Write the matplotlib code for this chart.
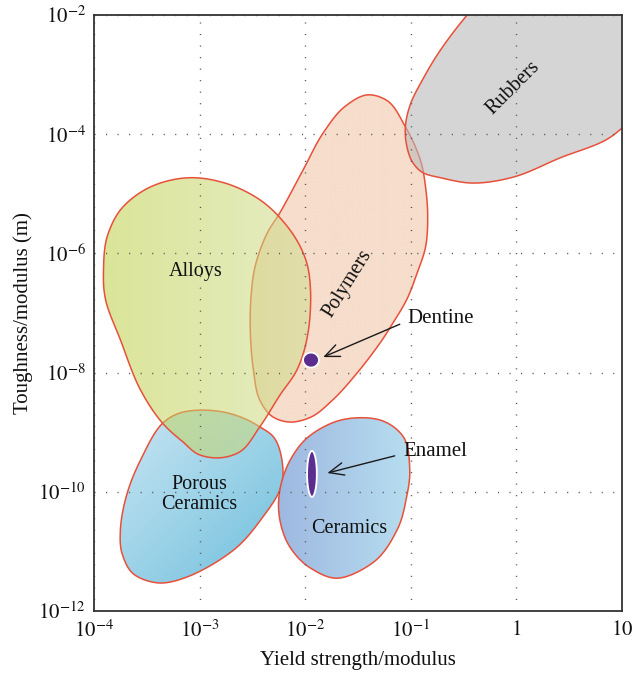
import numpy as np
import matplotlib
matplotlib.use("Agg")
import matplotlib.pyplot as plt
from matplotlib.path import Path
from matplotlib.patches import PathPatch
from matplotlib.colors import to_rgb

plt.rcParams["font.family"] = ["Liberation Serif", "DejaVu Serif"]
plt.rcParams["mathtext.fontset"] = "stix"

# Material-class outlines, in decades: log10(yield strength/modulus), log10(toughness/modulus)
alloys_x = [-3.09, -2.76, -2.43, -2.16, -2.00, -1.95, -1.98, -2.08, -2.24, -2.43, -2.62,
            -2.81, -3.00, -3.16, -3.35, -3.56, -3.75, -3.89, -3.91, -3.87, -3.71, -3.42]
alloys_y = [-4.73, -4.82, -5.10, -5.57, -6.08, -6.61, -7.40, -7.96, -8.38, -8.91, -9.33,
            -9.43, -9.38, -9.16, -8.85, -8.29, -7.45, -6.78, -6.28, -5.69, -5.19, -4.85]

polymers_x = [-1.41, -1.23, -1.05, -0.91, -0.86, -0.84, -0.86, -0.94, -1.04, -1.17, -1.29,
              -1.51, -1.74, -1.95, -2.14, -2.30, -2.43, -2.49, -2.52, -2.51, -2.47, -2.36,
              -2.24, -2.02, -1.83, -1.62]
polymers_y = [-3.34, -3.43, -3.88, -4.43, -4.89, -5.39, -5.89, -6.33, -6.78, -7.17, -7.50,
              -8.01, -8.46, -8.75, -8.83, -8.75, -8.46, -7.96, -7.29, -6.66, -6.19, -5.66,
              -5.32, -4.60, -3.98, -3.53]

rubbers_x = [-0.30, 1.20, 1.15, 0.89, 0.41, -0.03, -0.41, -0.72, -0.88, -0.98, -1.04,
             -1.05, -1.00, -0.89, -0.75, -0.58, -0.44]
rubbers_y = [-1.70, -1.70, -3.50, -4.05, -4.40, -4.72, -4.82, -4.73, -4.65, -4.48, -4.18,
             -3.85, -3.48, -3.09, -2.67, -2.25, -1.95]

porous_x = [-3.00, -2.78, -2.59, -2.43, -2.30, -2.22, -2.23, -2.40, -2.68, -3.12, -3.38,
            -3.61, -3.73, -3.75, -3.69, -3.56, -3.35, -3.19]
porous_y = [-8.63, -8.66, -8.76, -8.91, -9.08, -9.47, -9.92, -10.42, -10.98, -11.43, -11.53,
            -11.40, -11.06, -10.64, -10.05, -9.47, -8.85, -8.68]

ceramics_x = [-1.41, -1.24, -1.07, -1.01, -1.04, -1.13, -1.36, -1.70, -1.95, -2.14, -2.24,
              -2.24, -2.13, -1.95, -1.67]
ceramics_y = [-8.76, -8.83, -9.08, -9.63, -10.09, -10.64, -11.19, -11.45, -11.28, -10.94,
              -10.47, -9.97, -9.43, -9.05, -8.80]

# Tooth tissues: centre and half-extent, in decades
dentine_center = (-1.945, -7.79)
dentine_half = (0.075, 0.125)
enamel_center = (-1.936, -9.70)
enamel_half = (0.046, 0.385)

# Class labels: (text, log10 x, log10 y, rotation)
class_labels = [("Alloys", -3.04, -6.31, 0),
                ("Polymers", -1.60, -6.50, 58),
                ("Rubbers", -0.03, -3.22, 45),
                ("Porous\nCeramics", -3.00, -10.05, 0),
                ("Ceramics", -1.58, -10.61, 0)]

x_ticks = [-4, -3, -2, -1, 0, 1]
x_ticklabels = [r"$10^{-4}$", r"$10^{-3}$", r"$10^{-2}$", r"$10^{-1}$", r"$1$", r"$10$"]
y_ticks = [-12, -10, -8, -6, -4, -2]
y_ticklabels = [r"$10^{-12}$", r"$10^{-10}$", r"$10^{-8}$", r"$10^{-6}$", r"$10^{-4}$", r"$10^{-2}$"]

XLOG = (-4, 1)
YLOG = (-12, -2)
EDGE = "#e8503a"

W, H = 635, 677
fig = plt.figure(figsize=(W / 100, H / 100), dpi=100)
ax = fig.add_axes([94 / W, 1 - 611 / H, 528 / W, 596 / H])
ax.set_xscale("log")
ax.set_yscale("log")
ax.set_xlim(10.0 ** XLOG[0], 10.0 ** XLOG[1])
ax.set_ylim(10.0 ** YLOG[0], 10.0 ** YLOG[1])


def smooth_closed(xs, ys, per_seg=30):
    """Closed centripetal Catmull-Rom curve through the given points."""
    P = np.column_stack([xs, ys]).astype(float)
    n = len(P)
    out = []
    for i in range(n):
        p0, p1, p2, p3 = P[(i - 1) % n], P[i], P[(i + 1) % n], P[(i + 2) % n]
        t0 = 0.0
        t1 = t0 + np.linalg.norm(p1 - p0) ** 0.5
        t2 = t1 + np.linalg.norm(p2 - p1) ** 0.5
        t3 = t2 + np.linalg.norm(p3 - p2) ** 0.5
        t = np.linspace(t1, t2, per_seg, endpoint=False)[:, None]
        a1 = (t1 - t) / (t1 - t0) * p0 + (t - t0) / (t1 - t0) * p1
        a2 = (t2 - t) / (t2 - t1) * p1 + (t - t1) / (t2 - t1) * p2
        a3 = (t3 - t) / (t3 - t2) * p2 + (t - t2) / (t3 - t2) * p3
        b1 = (t2 - t) / (t2 - t0) * a1 + (t - t0) / (t2 - t0) * a2
        b2 = (t3 - t) / (t3 - t1) * a2 + (t - t1) / (t3 - t1) * a3
        out.append((t2 - t) / (t2 - t1) * b1 + (t - t1) / (t2 - t1) * b2)
    pts = np.vstack(out)
    return np.vstack([pts, pts[:1]])


def base_color(target, alpha):
    """Colour that gives `target` on white when drawn with `alpha`."""
    c = np.array(to_rgb(target))
    return np.clip(1 - (1 - c) / alpha, 0, 1)


def region(xs, ys, c0, c1, direction, alpha, z):
    verts = smooth_closed(xs, ys)
    path = Path(10.0 ** verts, closed=True)
    outline = PathPatch(path, facecolor="none", edgecolor=EDGE, lw=1.1, zorder=z + 0.01)
    ax.add_patch(outline)

    fx = (verts[:, 0] - XLOG[0]) / (XLOG[1] - XLOG[0])
    fy = (verts[:, 1] - YLOG[0]) / (YLOG[1] - YLOG[0])
    x0, x1 = fx.min() - 0.01, fx.max() + 0.01
    y0, y1 = fy.min() - 0.01, fy.max() + 0.01
    n = 200
    u = np.linspace(0, 1, n)
    X, Y = np.meshgrid(u, u)
    dx, dy = direction
    proj = X * (x1 - x0) * 528 * dx + Y * (y1 - y0) * 596 * dy
    t = (proj - proj.min()) / (proj.max() - proj.min())
    b0, b1 = base_color(c0, alpha), base_color(c1, alpha)
    img = b0[None, None, :] + t[..., None] * (b1 - b0)[None, None, :]
    im = ax.imshow(img, extent=(x0, x1, y0, y1), origin="lower",
                   transform=ax.transAxes, aspect="auto", alpha=alpha,
                   interpolation="bilinear", zorder=z)
    im.set_clip_path(outline)


s2 = np.sqrt(0.5)
region(polymers_x, polymers_y, "#f6ddcc", "#f6ddcc", (1, 0), 1.0, 1.0)
region(rubbers_x, rubbers_y, "#d6d6d6", "#d6d6d6", (1, 0), 0.6, 1.1)
region(porous_x, porous_y, "#cde7f4", "#6cbedc", (s2, -s2), 1.0, 1.2)
region(ceramics_x, ceramics_y, "#9db7e0", "#b8dff0", (1, 0), 1.0, 1.3)
region(alloys_x, alloys_y, "#dbe597", "#e6edc4", (1, 0), 0.55, 1.4)

ax.set_xlim(10.0 ** XLOG[0], 10.0 ** XLOG[1])
ax.set_ylim(10.0 ** YLOG[0], 10.0 ** YLOG[1])


def tissue(center, half):
    th = np.linspace(0, 2 * np.pi, 100)
    x = center[0] + half[0] * np.cos(th)
    y = center[1] + half[1] * np.sin(th)
    p = PathPatch(Path(np.column_stack([10.0 ** x, 10.0 ** y]), closed=True),
                  facecolor="#5b2d8e", edgecolor="white", lw=1.3, zorder=3)
    ax.add_patch(p)


tissue(dentine_center, dentine_half)
tissue(enamel_center, enamel_half)

arrow = dict(arrowstyle="->,head_length=0.7,head_width=0.3", color="#1a1a1a",
             lw=1.0, shrinkA=4, shrinkB=0, relpos=(0, 0.4))
ax.annotate("Dentine", xy=(10 ** -1.83, 10 ** -7.74), xytext=(10 ** -1.03, 10 ** -7.10),
            ha="left", va="center", fontsize=15, color="#111", arrowprops=arrow, zorder=4)
ax.annotate("Enamel", xy=(10 ** -1.79, 10 ** -9.685), xytext=(10 ** -1.075, 10 ** -9.33),
            ha="left", va="center", fontsize=15, color="#111", arrowprops=arrow, zorder=4)

for text, lx, ly, rot in class_labels:
    ax.text(10.0 ** lx, 10.0 ** ly, text, ha="center", va="center", rotation=rot,
            fontsize=14.5, color="#111", zorder=4, linespacing=1.05,
            rotation_mode="anchor")

ax.set_xticks([10.0 ** v for v in x_ticks])
ax.set_xticklabels(x_ticklabels)
ax.set_yticks([10.0 ** v for v in y_ticks])
ax.set_yticklabels(y_ticklabels)
ax.minorticks_off()
ax.tick_params(length=0, labelsize=15, colors="#111", pad=7)
ax.tick_params(axis="y", pad=6)

ax.set_axisbelow(False)
ax.grid(True, color="#555555", linestyle=(0, (0.8, 7.5)), linewidth=1.0)
for sp in ax.spines.values():
    sp.set_color("#333333")
    sp.set_linewidth(1.3)
    sp.set_zorder(5)

ax.set_xlabel("Yield strength/modulus", fontsize=15, color="#111", labelpad=6)
ax.set_ylabel("Toughness/modulus (m)", fontsize=15, color="#111", labelpad=4)

fig.savefig("out.png", dpi=100)
